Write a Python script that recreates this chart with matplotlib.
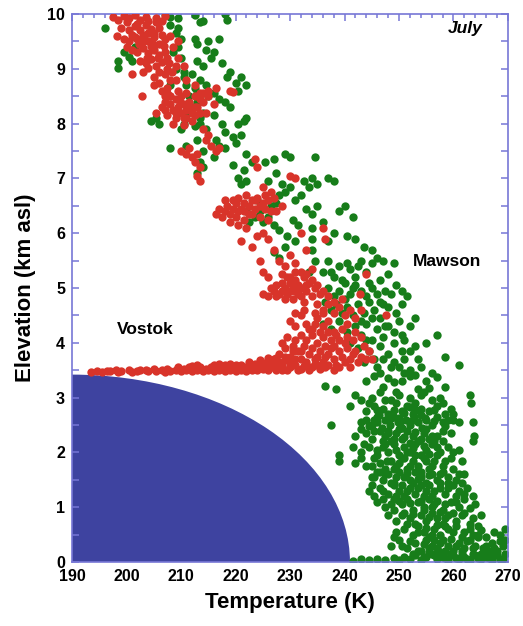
import numpy as np
import matplotlib
matplotlib.use("Agg")
import matplotlib.pyplot as plt
from matplotlib.patches import Ellipse
from matplotlib.ticker import MultipleLocator

# =====================================================
# Radiosonde profiles, July (temperature K, elevation km asl)
# =====================================================
vostok_upper = [
    (197.5, 9.95), (198.5, 9.9), (199.5, 9.97), (200.5, 9.92), (201.5, 9.98), (202.5, 9.9),
    (203.5, 9.95), (205.5, 9.93), (207, 9.97), (199, 9.75), (200.5, 9.7), (201.5, 9.78),
    (202.5, 9.7), (203.5, 9.8), (204.5, 9.72), (206, 9.75), (199.5, 9.55), (200.5, 9.5),
    (201.5, 9.58), (202.3, 9.45), (203.2, 9.55), (204, 9.5), (205, 9.58), (206, 9.45),
    (207, 9.55), (208, 9.6), (198.2, 9.6), (201, 9.35), (202, 9.3), (203, 9.38), (204, 9.28),
    (205, 9.35), (206, 9.25), (207, 9.3), (208.5, 9.4), (209.5, 9.2), (202.5, 9.15),
    (203.5, 9.1), (204.5, 9.18), (205.5, 9.05), (206.5, 9.12), (207.5, 9.0), (209, 9.05),
    (201, 8.9), (202.8, 8.5), (205, 8.85), (206, 8.75), (207, 8.9), (208, 8.8), (206.5, 8.6),
    (207.5, 8.65), (212.5, 8.7), (213.5, 8.55), (215, 8.6), (204, 9.65), (205.5, 9.85),
    (203, 9.62), (206.5, 9.62), (204.5, 9.42), (207.5, 9.2), (208.3, 8.95),
    (200, 9.85), (201, 9.62), (202, 9.82), (203, 9.5), (204, 9.88), (205, 9.65), (206.5, 9.88),
    (200, 9.4), (202, 9.55), (203.8, 9.2), (204.8, 9.45), (205.8, 9.2), (206.8, 9.42),
    (207.8, 9.1), (203, 8.95), (204, 9.02), (205, 8.7), (206, 8.95), (207, 8.5), (208, 8.5),
    (209, 8.8), (211, 8.8), (209.5, 9.5), (210.5, 9.05),
]
vostok_8km = [
    (205.5, 8.2), (206.5, 8.3), (207, 8.4), (207.5, 8.15), (208, 8.35), (208.5, 8.25),
    (209, 8.45), (209, 8.1), (209.5, 8.3), (210, 8.2), (210, 8.5), (210.5, 8.35), (211, 8.1),
    (211, 8.25), (211.5, 8.4), (212, 8.2), (212.5, 8.5), (213, 8.3), (213.5, 8.45), (214, 8.55),
    (208.5, 8.0), (210.5, 7.98), (212, 8.05), (214.5, 8.2), (216, 8.35), (216.5, 8.65),
    (219, 8.6), (219.6, 8.58), (209.5, 8.6), (211, 8.55), (212.5, 8.3),
    (207, 8.25), (208, 8.5), (209, 8.2), (209.8, 8.4), (210.5, 8.1), (211.5, 8.3),
    (212.5, 8.15), (213.5, 8.2), (214, 8.4), (215, 8.5), (207.5, 8.55),
    (210, 7.5), (211, 7.45), (211.5, 7.55), (212, 7.4), (212.5, 7.3), (213, 7.45),
    (213.5, 7.2), (213, 7.05), (213.5, 6.95), (214.5, 7.7), (215.5, 7.6), (216.5, 7.5),
    (217, 7.55), (215, 7.8), (214, 7.9), (223.5, 7.35), (224, 7.2), (230, 7.05), (231, 7.0),
    (225, 6.85), (226.5, 6.75),
]
vostok_6km = [
    (216.5, 6.35), (217, 6.45), (217.5, 6.3), (218, 6.4), (218.5, 6.5), (219, 6.35),
    (219.5, 6.45), (220, 6.55), (220, 6.3), (220.5, 6.65), (221, 6.45), (221.5, 6.55),
    (221.5, 6.25), (222, 6.7), (222.5, 6.5), (223, 6.6), (223, 6.35), (223.5, 6.45),
    (224, 6.65), (224.5, 6.5), (225, 6.55), (225.5, 6.7), (226, 6.6), (226.5, 6.4),
    (227, 6.65), (228.5, 6.5), (219, 6.2), (220.5, 6.15), (222, 6.1), (224, 5.95),
    (218, 6.6), (219.5, 6.6), (220.5, 6.4), (221.5, 6.4), (222.5, 6.35), (223.5, 6.6),
    (224.5, 6.3), (225.5, 6.45), (226, 6.25), (227.5, 6.4),
    (223, 5.75), (225, 6.0), (221, 5.85), (226, 5.9), (227, 5.7), (228, 5.5), (229, 5.4),
    (230, 5.6), (231, 5.45), (232, 5.3), (228.5, 5.25), (230, 5.2), (224.5, 5.5), (225, 5.3),
    (226, 5.2), (233, 5.7), (236, 6.1), (236.5, 5.9), (232, 6.0),
]
vostok_5km = [
    (225, 4.9), (226, 4.85), (227, 4.95), (227.5, 5.05), (228, 4.9), (228.5, 5.1), (229, 5.0),
    (229, 4.8), (229.5, 5.2), (230, 4.95), (230.5, 5.05), (230.5, 4.8), (231, 5.15),
    (231.5, 4.9), (232, 5.0), (232.5, 5.2), (232.5, 4.75), (233, 4.95), (233.5, 5.1),
    (234, 4.85), (234.5, 5.0), (235, 4.7), (235.5, 4.9), (236, 4.6), (237, 4.7), (238, 4.55),
    (239, 4.65), (240, 4.5), (230, 4.4), (231, 4.3), (232, 4.5), (233, 4.35), (234, 4.25),
    (235, 4.45), (236, 4.3), (237, 4.4), (238, 4.2), (240.5, 4.35), (243, 4.6), (247.7, 4.5),
    (242.8, 4.9), (244, 5.26), (231, 5.3), (233, 5.25), (234, 5.35),
    (226.5, 5.0), (227.5, 4.85), (228.5, 4.95), (229.5, 4.9), (230, 5.1), (231, 4.95),
    (231.5, 5.05), (232, 4.85), (233, 5.05), (234, 5.15), (235, 5.05), (236, 4.95),
    (237, 4.85), (238, 4.75), (239.5, 4.8), (241, 4.6), (242, 4.45),
]
vostok_4km = [
    (228, 3.8), (228.5, 4.0), (229, 3.9), (229.5, 4.1), (230, 3.75), (230.5, 3.95),
    (231, 4.05), (231.5, 3.85), (232, 4.15), (232, 3.7), (232.5, 3.95), (233, 4.05),
    (233.5, 3.8), (234, 4.15), (234, 3.9), (234.5, 3.7), (235, 4.0), (235.5, 3.85),
    (236, 4.1), (236, 3.65), (236.5, 3.95), (237, 3.8), (237.5, 4.05), (238, 3.7),
    (238, 3.95), (238.5, 4.15), (239, 3.85), (239.5, 3.75), (240, 4.0), (240.5, 3.9),
    (241, 3.7), (241.5, 4.05), (242, 3.85), (243, 3.75), (243.5, 3.95), (244, 3.7),
    (241, 3.55), (239, 3.55), (237, 3.6),
    (227, 3.7), (228, 3.65), (229, 3.75), (230, 3.62), (230.5, 3.85), (231, 3.7),
    (232, 3.85), (233, 3.65), (233.5, 4.25), (234.5, 4.35), (235, 3.75), (235.5, 4.2),
    (236.5, 3.75), (237, 4.2), (237.5, 3.9), (238.5, 3.6), (239, 4.05), (239.5, 4.25),
    (240, 3.65), (240.5, 4.1), (241.5, 3.8), (242, 4.2), (242.5, 3.65), (243, 4.1),
    (244.5, 3.85), (245, 3.7), (236, 4.55), (234.5, 4.55), (232.5, 4.6), (231, 4.55),
]
vostok_surface = [
    (193.5, 3.47), (194.5, 3.48), (196.5, 3.48), (198, 3.5), (199, 3.48), (200.5, 3.5),
    (202, 3.49), (203.5, 3.5), (205, 3.52), (206.5, 3.5), (207.5, 3.53), (209, 3.51),
    (210.5, 3.52), (211.5, 3.55), (212.5, 3.52), (213.5, 3.56), (214.5, 3.53), (215.5, 3.55),
    (216.5, 3.52), (217.5, 3.57), (218.5, 3.54), (219.5, 3.56), (220.5, 3.53), (221, 3.6),
    (222, 3.55), (222.5, 3.65), (223, 3.5), (224, 3.58), (224.5, 3.68), (225, 3.53),
    (225.5, 3.62), (226, 3.72), (226.5, 3.55), (227, 3.65), (227.5, 3.5), (228, 3.6),
    (229, 3.68), (230, 3.55), (231, 3.6), (232, 3.52), (233, 3.62), (234, 3.55), (235, 3.6),
    (213, 3.6), (217, 3.61), (219, 3.62),
    (195.5, 3.47), (197, 3.49), (198.5, 3.47), (201, 3.47), (202.5, 3.51), (204, 3.48),
    (205.5, 3.49), (207, 3.47), (208, 3.49), (209.5, 3.55), (210, 3.48), (211, 3.5),
    (212, 3.49), (213, 3.51), (214, 3.48), (215, 3.5), (216, 3.49), (217, 3.5), (218, 3.49),
    (219, 3.5), (220, 3.49), (221, 3.5), (222, 3.48), (223, 3.58), (223.5, 3.62), (224, 3.5),
    (225, 3.64), (226, 3.5), (226, 3.62), (227, 3.55), (227.5, 3.72), (228.5, 3.5),
    (228.5, 3.58), (229.5, 3.5), (230.5, 3.66), (231.5, 3.5), (232.5, 3.58), (233.5, 3.5),
    (234.5, 3.62), (235.5, 3.52), (236.5, 3.55), (238, 3.5), (212, 3.58), (216, 3.59),
    (220, 3.6), (218, 3.6),
]

mawson_upper = [
    (196, 9.75), (198.5, 9.15), (198.5, 9.02), (199.5, 9.3), (200.5, 9.22), (201, 9.15),
    (201.5, 9.4), (204.5, 8.05), (205.5, 8.1), (206, 8.0), (207, 10.0), (208, 9.95),
    (209.5, 9.92), (208, 9.8), (209, 9.65), (210, 9.55), (209.5, 9.4), (208.5, 9.3),
    (210, 9.2), (209, 9.0), (210.5, 8.95), (208, 8.7), (211, 8.7), (210.5, 8.85), (209.5, 9.75),
    (212.5, 9.98), (213.5, 9.85), (214, 9.88), (212.5, 9.55), (213, 9.45), (214.5, 9.35),
    (215, 9.5), (213, 9.15), (214, 9.05), (215.5, 9.2), (212, 8.9), (213.5, 8.8),
    (212.5, 8.65), (214.5, 8.7), (215, 8.5), (213, 8.4), (214, 8.2), (213.5, 8.0),
    (214.5, 7.9), (213, 7.7), (214, 7.5), (213.5, 7.3), (213, 7.1), (214, 7.2),
    (217, 9.55), (218, 10.0), (218.5, 9.9), (216, 9.3), (217.5, 9.1), (218.5, 8.85),
    (219, 8.95), (220, 8.75), (220.5, 8.6), (221, 8.85), (222, 8.7), (216, 8.55), (217, 8.45),
    (218, 8.4), (219, 8.3), (216, 8.15), (217.5, 8.0), (218, 7.85), (219.5, 7.75), (220, 7.65),
    (221, 7.8), (221.5, 8.05), (222, 8.1), (220.5, 8.0), (217, 7.6), (218, 7.55), (216, 7.4),
    (219.5, 7.25), (220.5, 7.0), (221.5, 7.15), (211, 7.6), (208, 7.55), (210, 7.9),
    (216.5, 7.7), (211.5, 8.5), (212, 8.3), (213, 8.55), (213.5, 8.1), (210.5, 8.0),
    (212.5, 7.95), (211, 8.15),
]
mawson_mid = [
    (222, 7.45), (223, 7.3), (221, 6.9), (222, 6.95), (225.5, 7.3), (227, 7.35), (229, 7.45),
    (230, 7.4), (227.5, 7.1), (228.5, 6.9), (229, 6.75), (230, 6.85), (231, 6.6), (232, 6.7),
    (232.5, 6.95), (233.5, 6.85), (234, 7.0), (234.5, 7.4), (235, 6.9), (237, 7.0),
    (238, 6.95), (233, 6.45), (234, 6.35), (235, 6.5), (236, 6.2), (239, 6.4), (240, 6.5),
    (241.5, 6.3), (238, 6.0), (237, 5.85), (240.5, 5.95), (242, 5.9), (243.5, 5.75),
    (245, 5.7), (234, 6.1), (234, 5.9), (234, 5.7), (234.5, 5.5), (233.5, 5.3), (231, 5.85),
    (229.5, 5.95), (228, 6.05), (227, 6.15), (226, 6.3), (224.5, 6.4), (225, 6.2),
    (223.5, 6.3), (222.5, 6.2), (222, 6.4), (226.5, 6.5), (228, 6.7), (226, 6.95), (224, 6.6),
    (227.5, 6.55), (230.5, 6.25), (231.5, 6.15), (229, 5.75), (228, 5.55), (227, 5.65),
]
mawson_4km = [
    (236, 5.3), (237, 5.5), (238, 5.2), (239, 5.4), (240, 5.1), (241, 5.35), (242, 5.2),
    (243, 5.5), (244, 5.3), (245, 5.45), (246, 5.55), (247, 5.5), (249, 5.45), (246.5, 5.15),
    (248, 5.25), (249.5, 5.05), (250.5, 4.95), (247.5, 4.95), (245, 5.0), (244, 4.85),
    (243, 4.95), (242, 5.05), (241, 4.9), (240, 4.8), (239, 4.95), (238, 4.85), (237, 5.0),
    (236.5, 4.75), (237.5, 4.6), (238.5, 4.7), (239.5, 4.55), (240.5, 4.65), (241.5, 4.5),
    (242.5, 4.7), (243.5, 4.55), (244.5, 4.75), (245.5, 4.6), (246.5, 4.75), (248, 4.65),
    (249.5, 4.55), (250, 4.4), (252, 4.3), (251.5, 4.85), (236, 4.35), (237.5, 4.25),
    (239, 4.4), (240.5, 4.2), (242, 4.3), (243, 4.15), (244, 4.35), (245, 4.05), (246, 4.25),
    (247, 4.1), (248, 4.3), (249, 4.0), (250.5, 4.15), (241, 4.0), (242.5, 3.9), (244.5, 3.85),
    (245.5, 3.7), (246.5, 3.95), (248, 3.8), (249, 3.65), (250, 3.55), (251, 3.7), (252, 3.5),
    (253.5, 3.7), (254, 3.55), (257, 4.15), (258.5, 3.75), (261, 3.6), (255, 4.0),
    (253, 4.45), (237.5, 5.3), (240.5, 5.45), (242.5, 5.4), (244.5, 5.1), (246, 4.9),
    (247, 4.7), (248.5, 4.9), (250.5, 4.7), (243, 4.4), (245, 4.45), (246.5, 4.45),
    (247.5, 4.3), (249, 4.2), (251, 4.05), (252, 3.85), (253, 3.95), (247, 3.7), (248.5, 3.55),
    (250.5, 3.85), (243.5, 3.65), (244, 4.05), (246, 3.55), (239.5, 5.15), (241.5, 5.0),
]
mawson_lower = [
    (236.5, 3.22), (238.5, 3.15), (242, 3.05), (244, 3.3), (245.5, 3.4), (247, 3.2),
    (248, 3.35), (249.5, 3.1), (250.5, 3.3), (252, 3.4), (253.5, 3.15), (255, 3.3),
    (251, 3.45), (254, 3.05), (256, 3.45), (243, 2.95), (245, 3.0), (246.5, 3.1),
    (248.5, 2.95), (250, 3.05), (252, 3.0), (253, 2.9), (254.5, 3.1), (256, 2.95),
    (263, 3.05), (263.2, 2.9), (257.5, 3.0), (241, 2.85), (244, 2.75), (245.5, 2.85),
    (247, 2.8), (248, 2.7), (249.5, 2.9), (250.5, 2.75), (251.5, 2.85), (252.5, 2.7),
    (254, 2.8), (255.5, 2.75), (257, 2.85), (258.5, 2.7), (259.5, 2.8), (246, 2.65),
    (237.5, 2.5), (243, 2.55), (244, 2.6), (245, 2.5), (246, 2.55), (246.8, 2.45),
    (247.5, 2.6), (248.3, 2.5), (249, 2.65), (249.8, 2.55), (250.5, 2.45), (251.3, 2.6),
    (252, 2.5), (252.8, 2.65), (253.5, 2.55), (254.3, 2.45), (255, 2.6), (256, 2.5),
    (257, 2.65), (258, 2.55), (259, 2.6), (263.5, 2.55), (245.5, 2.6), (248, 2.4),
    (242, 2.3), (244, 2.35), (245, 2.25), (246.5, 2.4), (247.5, 2.3), (248.5, 2.2),
    (249.5, 2.35), (250.5, 2.25), (251.5, 2.4), (252.5, 2.3), (253.5, 2.2), (254.5, 2.35),
    (255.5, 2.25), (257, 2.3), (258, 2.4), (263.7, 2.3), (263.5, 2.2), (239, 1.95),
    (241.5, 2.1), (243, 2.0), (244.5, 2.1), (246, 1.95), (247, 2.1), (248, 2.0), (249, 2.15),
    (250, 1.95), (251, 2.1), (252, 2.0), (253, 2.15), (254, 1.95), (255, 2.05), (256, 2.15),
    (257.5, 2.0), (259, 2.1), (261, 2.05), (239, 1.85), (242, 1.8), (244, 1.75), (245.5, 1.9),
    (246.5, 1.8), (247.5, 1.7), (248.5, 1.85), (249.5, 1.75), (250.5, 1.9), (251.5, 1.7),
    (252.5, 1.85), (253.5, 1.75), (254.5, 1.9), (255.5, 1.7), (256.5, 1.85), (258, 1.75),
    (261.5, 1.85), (259.5, 1.9), (245, 1.55), (246, 1.65), (247, 1.5), (248, 1.6),
    (249, 1.45), (250, 1.65), (251, 1.55), (252, 1.5), (253, 1.65), (254, 1.55), (255, 1.45),
    (256, 1.6), (257, 1.5), (258, 1.65), (259, 1.55), (260.5, 1.5), (262, 1.6), (261.5, 1.45),
    (244.5, 1.3), (245.5, 1.2), (246.5, 1.35), (248, 1.25), (249, 1.4), (250, 1.3),
    (251, 1.2), (252, 1.35), (253, 1.25), (254, 1.4), (255, 1.3), (256, 1.2), (257.5, 1.35),
    (258.5, 1.25), (260, 1.4), (261, 1.3), (262.5, 1.35), (263.5, 1.2), (246, 1.1),
    (247.5, 1.0), (249, 1.15), (250.5, 1.05), (251.5, 1.15), (252.5, 0.95), (253.5, 1.1),
    (254.5, 1.0), (255.5, 1.15), (256.5, 1.05), (258, 0.95), (259.5, 1.1), (261, 1.0),
    (262, 1.15), (264, 1.05), (248, 0.85), (249.5, 0.75), (251, 0.9), (252, 0.8), (253, 0.7),
    (254, 0.85), (255, 0.75), (256, 0.9), (257, 0.8), (258, 0.7), (259, 0.85), (260.5, 0.75),
    (262, 0.9), (263.5, 0.8), (265, 0.85), (249.5, 0.55), (251, 0.6), (252.5, 0.5),
    (253.5, 0.65), (254.5, 0.55), (255.5, 0.45), (256.5, 0.6), (257.5, 0.5), (258.5, 0.65),
    (260, 0.55), (261.5, 0.45), (263, 0.6), (264.5, 0.5), (266, 0.45), (269.5, 0.6),
    (268.5, 0.5), (248.5, 0.3), (250, 0.4), (251.5, 0.25), (253, 0.35), (254, 0.2),
    (255, 0.4), (256, 0.3), (257, 0.25), (258, 0.4), (259, 0.3), (260, 0.2), (261, 0.35),
    (262, 0.25), (263, 0.4), (264, 0.3), (265.5, 0.25), (267, 0.35), (268, 0.2), (269, 0.3),
    (241.5, 0.02), (243, 0.05), (244.5, 0.03), (246, 0.06), (247.5, 0.04), (249, 0.08),
    (250, 0.03), (251, 0.1), (252, 0.05), (253, 0.12), (254, 0.04), (255, 0.09), (256, 0.15),
    (257, 0.05), (258, 0.1), (259, 0.03), (260, 0.12), (261, 0.06), (262, 0.1), (263, 0.04),
    (264, 0.12), (265, 0.06), (266, 0.1), (267, 0.04), (268, 0.12), (269, 0.06), (269.5, 0.15),
]
mawson_core = [
    (246.5, 3.45), (249, 3.28), (253, 3.42), (255.5, 3.18), (257, 3.38), (258.5, 3.2),
    (244.5, 2.9), (246, 2.78), (247.5, 2.95), (249, 2.78), (250, 2.62), (251, 2.72),
    (252, 2.82), (253.2, 2.78), (254.8, 2.62), (256.5, 2.78), (258, 2.9), (260, 2.7),
    (244.5, 2.48), (246.3, 2.68), (248.5, 2.62), (250.3, 2.58), (252.2, 2.58), (254, 2.68),
    (256.5, 2.58), (258.5, 2.48), (260, 2.6), (261, 2.55), (243, 2.42), (245.5, 2.4),
    (247, 2.2), (248, 2.35), (249, 2.25), (250, 2.42), (251, 2.28), (252, 2.18), (253, 2.38),
    (254, 2.25), (255, 2.42), (256, 2.3), (256.5, 2.2), (258, 2.2), (259.5, 2.35),
    (243.5, 2.15), (246, 2.05), (247.5, 2.15), (249.5, 2.05), (251.5, 2.0), (252.5, 2.08),
    (254.5, 2.12), (255.5, 1.98), (257, 2.1), (260, 2.0), (243, 1.9), (245, 1.75),
    (246.5, 1.65), (247.8, 1.85), (249, 1.7), (250, 1.8), (251, 1.9), (252, 1.75), (253, 1.95),
    (254, 1.65), (255, 1.85), (256, 1.75), (257, 1.95), (258.5, 1.85), (260, 1.7), (261, 1.6),
    (245.5, 1.55), (247.5, 1.6), (249.5, 1.55), (251.5, 1.62), (253.5, 1.52), (255.5, 1.58),
    (257.5, 1.6), (259, 1.45), (245, 1.4), (247, 1.3), (248.5, 1.45), (249.5, 1.2),
    (250.5, 1.4), (251.5, 1.3), (252.5, 1.45), (253.5, 1.35), (254.5, 1.2), (255.5, 1.4),
    (256.5, 1.3), (257.5, 1.45), (259, 1.35), (260.5, 1.2), (262, 1.25), (247, 1.15),
    (248.5, 1.05), (250, 1.12), (252, 1.08), (254, 1.12), (256, 1.0), (257, 1.12),
    (258.5, 1.05), (260.5, 1.1), (263, 0.98), (249, 0.95), (250.5, 0.85), (252.5, 0.88),
    (254.5, 0.95), (255.5, 0.82), (257.5, 0.92), (258.5, 0.8), (260, 0.9), (261.5, 0.85),
    (263, 0.7), (264.5, 0.65), (251.5, 0.7), (253.5, 0.55), (255, 0.62), (256, 0.5),
    (257, 0.68), (259, 0.6), (260.5, 0.65), (262, 0.55), (263.5, 0.5), (265, 0.58),
    (267.5, 0.55), (249, 0.45), (250.5, 0.3), (252, 0.38), (253.5, 0.2), (254.5, 0.32),
    (255.5, 0.25), (256.5, 0.4), (257.5, 0.35), (258.5, 0.2), (259.5, 0.42), (260.5, 0.3),
    (261.5, 0.2), (262.5, 0.38), (263.5, 0.25), (264.5, 0.45), (265, 0.15), (266, 0.3),
    (266.5, 0.2), (267.5, 0.25), (268.5, 0.38), (269.5, 0.4), (252.5, 0.15), (254.5, 0.1),
    (255.5, 0.18), (256.5, 0.12), (257.5, 0.18), (258.5, 0.08), (259.5, 0.15), (260.5, 0.08),
    (261.5, 0.15), (262.5, 0.05), (263.5, 0.15), (264.5, 0.08), (265.5, 0.14), (266.5, 0.08),
    (267.5, 0.16), (268.5, 0.06),
]

# ice sheet cross-section (quarter ellipse from the Vostok plateau down to the coast)
ICE_T0 = 190.0
ICE_T_EDGE = 241.0
ICE_TOP = 3.42

vostok = np.array(vostok_upper + vostok_8km + vostok_6km + vostok_5km + vostok_4km
                  + vostok_surface)
mawson = np.array(mawson_upper + mawson_mid + mawson_4km + mawson_lower + mawson_core)

RED = "#d8342a"
GREEN = "#177d1a"
BLUE = "#3e43a0"
FRAME = "#7777d6"

plt.rcParams["font.family"] = ["Liberation Sans", "DejaVu Sans"]

fig = plt.figure(figsize=(5.23, 6.26), dpi=100)
ax = fig.add_axes([0.1377, 0.1022, 0.8336, 0.8754])

ax.add_patch(Ellipse((ICE_T0, 0), 2 * (ICE_T_EDGE - ICE_T0), 2 * ICE_TOP,
                     facecolor=BLUE, edgecolor="none", zorder=1))

ax.scatter(mawson[:, 0], mawson[:, 1], s=36, color=GREEN, linewidths=0, zorder=2)
ax.scatter(vostok[:, 0], vostok[:, 1], s=36, color=RED, linewidths=0, zorder=3)

ax.set_xlim(190, 270)
ax.set_ylim(0, 10)

ax.xaxis.set_major_locator(MultipleLocator(10))
ax.xaxis.set_minor_locator(MultipleLocator(2))
ax.yaxis.set_major_locator(MultipleLocator(1))
ax.yaxis.set_minor_locator(MultipleLocator(0.5))

ax.tick_params(axis="both", which="both", direction="in", color=FRAME, width=1.1,
               labelsize=11.5, pad=5)
ax.tick_params(axis="x", which="both", bottom=False, top=True)
ax.tick_params(axis="y", which="both", left=True, right=True)
ax.tick_params(axis="x", which="major", length=5)
ax.tick_params(axis="x", which="minor", length=3)
ax.tick_params(axis="y", which="both", length=5)
for lab in ax.get_xticklabels() + ax.get_yticklabels():
    lab.set_fontweight("bold")

for sp in ax.spines.values():
    sp.set_color(FRAME)
    sp.set_linewidth(1.2)

ax.set_xlabel("Temperature (K)", fontsize=16, fontweight="bold", labelpad=6)
ax.set_ylabel("Elevation (km asl)", fontsize=16, fontweight="bold", labelpad=8)

ax.text(198.2, 4.24, "Vostok", fontsize=12.5, fontweight="bold", va="center", ha="left")
ax.text(252.6, 5.48, "Mawson", fontsize=12.5, fontweight="bold", va="center", ha="left")
ax.text(265.4, 9.74, "July", fontsize=12.5, fontweight="bold", style="italic",
        va="center", ha="right")

fig.savefig("out.png", dpi=100)
